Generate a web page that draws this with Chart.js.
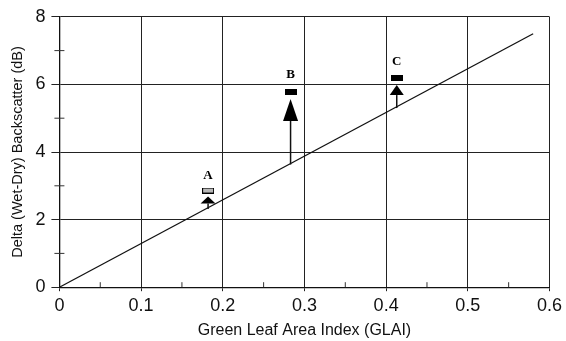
<!DOCTYPE html>
<html>
<head>
<meta charset="utf-8">
<script src="https://cdn.jsdelivr.net/npm/chart.js@4/dist/chart.umd.min.js"></script>
<style>
  html, body { margin: 0; padding: 0; background: #fff; }
  #wrap { width: 566px; height: 341px; }
</style>
</head>
<body>
<div id="wrap"><canvas id="grafico"></canvas></div>
<script>
// regression line
const fitX = [0, 0.58];
const fitY = [0, 7.5];

// measured points A, B, C
const pointLabels = ['A', 'B', 'C'];
const pointGlai = [0.182, 0.283, 0.413];
const pointDelta = [2.86, 5.77, 6.19];
const labelDelta = [3.3, 6.28, 6.66];

// arrows: from the line up to the tip
const arrowFrom = [2.31, 3.63, 5.30];
const arrowTo = [2.68, 5.57, 5.98];
const arrowHead = [7, 22, 10];   // head length, px
const arrowWidth = [15, 15, 14];

const xTicks = [0, 0.1, 0.2, 0.3, 0.4, 0.5, 0.6];
const yTicks = [0, 2, 4, 6, 8];

function rectMarker(fill) {
    const c = document.createElement('canvas');
    c.width = 12; c.height = 6;
    const g = c.getContext('2d');
    g.fillStyle = '#000';
    g.fillRect(0, 0, 12, 6);
    g.fillStyle = fill;
    g.fillRect(1, 1, 10, 4);
    return c;
}
const markers = [rectMarker('#b8b8b8'), rectMarker('#000'), rectMarker('#000')];

// arrows, letters and inner minor ticks
const extras = {
    id: 'extras',
    afterDatasetsDraw(chart) {
        const ctx = chart.ctx;
        const x = chart.scales.x, y = chart.scales.y;
        ctx.save();
        ctx.strokeStyle = '#111';
        ctx.fillStyle = '#000';
        for (let i = 0; i < pointGlai.length; i++) {
            const px = x.getPixelForValue(pointGlai[i]);
            const y0 = y.getPixelForValue(arrowFrom[i]);
            const y1 = y.getPixelForValue(arrowTo[i]);
            const base = y1 + arrowHead[i];
            ctx.lineWidth = 1.5;
            ctx.beginPath();
            ctx.moveTo(px, y0);
            ctx.lineTo(px, base);
            ctx.stroke();
            ctx.beginPath();
            ctx.moveTo(px, y1);
            ctx.lineTo(px - arrowWidth[i] / 2, base);
            ctx.lineTo(px + arrowWidth[i] / 2, base);
            ctx.closePath();
            ctx.fill();
            ctx.font = 'bold 13px "Liberation Serif", serif';
            ctx.textAlign = 'center';
            ctx.textBaseline = 'middle';
            ctx.fillText(pointLabels[i], px, y.getPixelForValue(labelDelta[i]));
        }
        // minor ticks
        ctx.lineWidth = 1;
        ctx.strokeStyle = '#333';
        const area = chart.chartArea;
        for (let v = 0.05; v < 0.6; v += 0.1) {
            const px = x.getPixelForValue(v);
            ctx.beginPath();
            ctx.moveTo(px, area.bottom);
            ctx.lineTo(px, area.bottom - 5);
            ctx.stroke();
        }
        for (let v = 1; v < 8; v += 2) {
            const py = y.getPixelForValue(v);
            ctx.beginPath();
            ctx.moveTo(area.left - 5, py);
            ctx.lineTo(area.left + 5, py);
            ctx.stroke();
        }
        ctx.restore();
    }
};

Chart.defaults.font.family = '"Liberation Sans", Arial, sans-serif';
Chart.defaults.color = '#111';

new Chart(document.getElementById('grafico'), {
    type: 'scatter',
    data: {
        datasets: [
            {
                label: 'Fit',
                data: fitX.map((v, i) => ({ x: v, y: fitY[i] })),
                showLine: true,
                borderColor: '#111',
                borderWidth: 1.3,
                pointRadius: 0
            },
            {
                label: 'Points',
                data: pointGlai.map((v, i) => ({ x: v, y: pointDelta[i] })),
                pointStyle: markers,
                pointRadius: 6
            }
        ]
    },
    options: {
        responsive: true,
        maintainAspectRatio: false,
        animation: false,
        layout: { padding: { top: 16, right: 0, left: 9, bottom: 1 } },
        plugins: {
            legend: { display: false },
            tooltip: { enabled: false }
        },
        scales: {
            x: {
                type: 'linear',
                min: 0,
                max: 0.6,
                afterBuildTicks: s => { s.ticks = xTicks.map(v => ({ value: v })); },
                ticks: {
                    font: { size: 18 },
                    padding: 4,
                    callback: v => v === 0 ? '0' : v.toFixed(1)
                },
                grid: { color: '#222', lineWidth: 1, tickLength: 4, tickColor: '#222' },
                border: { color: '#111', width: 1.3 },
                title: {
                    display: true,
                    text: 'Green Leaf Area Index (GLAI)',
                    font: { size: 16 },
                    padding: { top: 0, bottom: 0 }
                }
            },
            y: {
                type: 'linear',
                min: 0,
                max: 8,
                afterBuildTicks: s => { s.ticks = yTicks.map(v => ({ value: v })); },
                ticks: { font: { size: 18 }, padding: 6 },
                grid: { color: '#222', lineWidth: 1, tickLength: 8, tickColor: '#222' },
                border: { color: '#111', width: 1.3 },
                title: {
                    display: true,
                    text: 'Delta (Wet-Dry) Backscatter (dB)',
                    font: { size: 14.5 },
                    padding: { top: 0, bottom: 3 }
                }
            }
        }
    },
    plugins: [extras]
});
</script>
</body>
</html>
